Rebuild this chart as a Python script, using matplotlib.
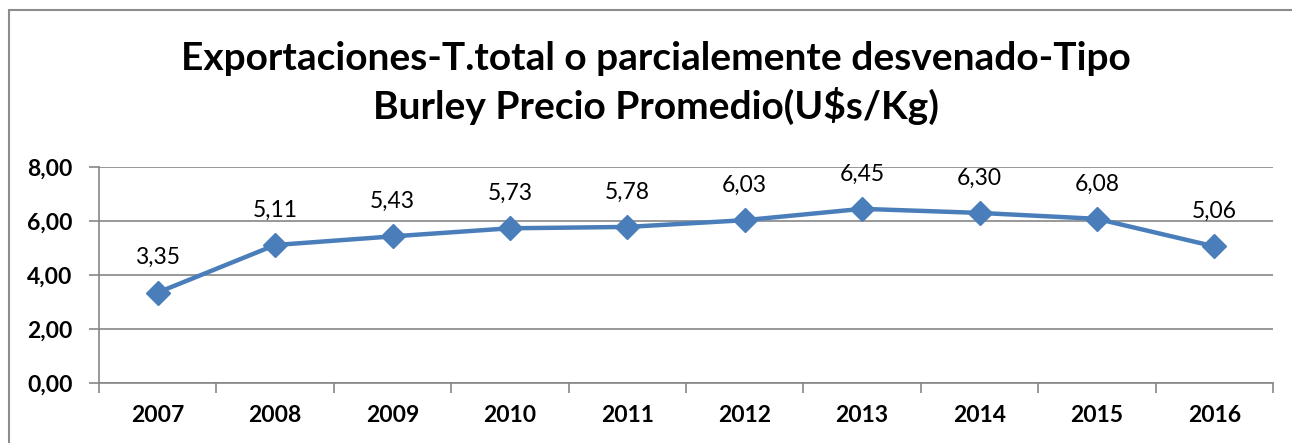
import matplotlib
matplotlib.use("Agg")
import matplotlib.pyplot as plt
from matplotlib.patches import Rectangle
from matplotlib.ticker import FixedLocator

years = ["2007", "2008", "2009", "2010", "2011", "2012", "2013", "2014", "2015", "2016"]
prices = [3.35, 5.11, 5.43, 5.73, 5.78, 6.03, 6.45, 6.30, 6.08, 5.06]
yticks = [0, 2, 4, 6, 8]
title = "Exportaciones-T.total o parcialemente desvenado-Tipo\nBurley Precio Promedio(U$s/Kg)"

plt.rcParams['font.family'] = ['Lato', 'DejaVu Sans']

W, H = 1292, 443
fig = plt.figure(figsize=(W / 100, H / 100), dpi=100)

# chart border
fig.patches.append(Rectangle((9 / W, -0.1), 1.2, (H - 10) / H + 0.1, transform=fig.transFigure,
                             fill=False, edgecolor='#8c8c8c', linewidth=1.5))

ax = fig.add_axes([99 / W, (H - 383) / H, (1273 - 99) / W, (383 - 167) / H])
x = list(range(len(years)))
ax.plot(x, prices, color='#4A7EBB', linewidth=3.2, marker='D', markersize=12,
        markerfacecolor='#4A7EBB', markeredgecolor='#4A7EBB', zorder=3, clip_on=False)
for xi, v in zip(x, prices):
    ax.annotate(f"{v:.2f}".replace('.', ','), (xi, v), xytext=(0, 25), textcoords='offset points',
                ha='center', va='center', fontsize=16.5, color='#000000')

ax.set_xlim(-0.5, len(years) - 0.5)
ax.set_ylim(0, 8)
ax.set_yticks(yticks)
ax.set_yticklabels([f"{t:.2f}".replace('.', ',') for t in yticks], fontsize=16.5, fontweight='bold')
ax.set_xticks(x)
ax.set_xticklabels(years, fontsize=16.5, fontweight='bold')
ax.xaxis.set_minor_locator(FixedLocator([i - 0.5 for i in range(len(years) + 1)]))
ax.tick_params(axis='x', which='major', length=0, pad=16)
ax.tick_params(axis='x', which='minor', length=7, width=1.2, color='#868686', direction='out')
ax.tick_params(axis='y', length=7, width=1.2, color='#868686', direction='out', pad=12)
ax.grid(axis='y', color='#868686', linewidth=1.2)
ax.set_axisbelow(True)
for s in ['top', 'right']:
    ax.spines[s].set_visible(False)
ax.spines['left'].set_color('#868686')
ax.spines['bottom'].set_color('#868686')
ax.spines['left'].set_linewidth(1.2)
ax.spines['bottom'].set_linewidth(1.2)

fig.text(656 / W, 1 - 83 / H, title, ha='center', va='center', fontsize=28, fontweight='bold',
         linespacing=1.35)

fig.savefig("out.png", dpi=100)
